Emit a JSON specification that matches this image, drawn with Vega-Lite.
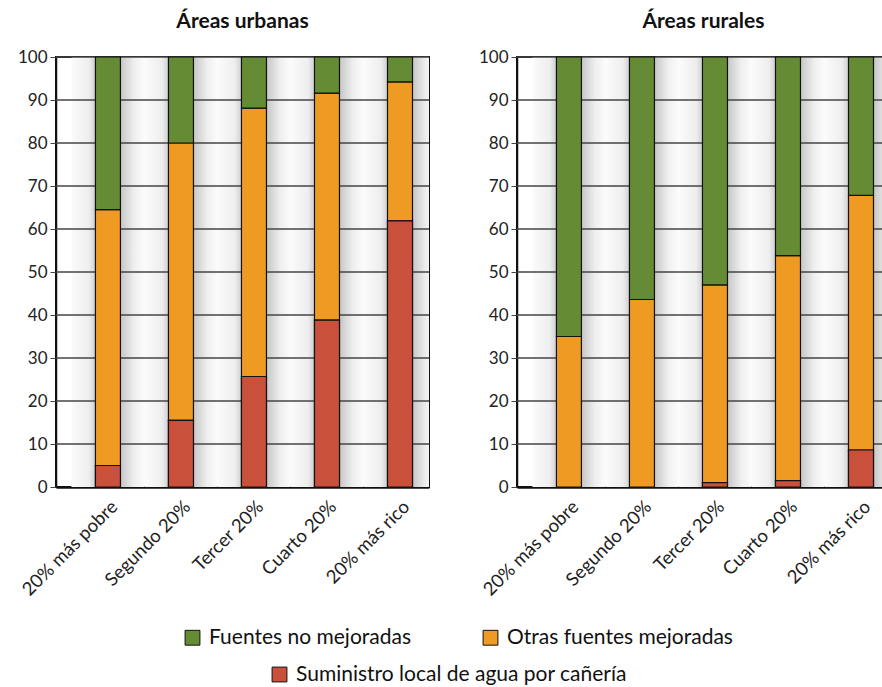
{
  "$schema": "https://vega.github.io/schema/vega-lite/v6.json",
  "padding": {"left": 16, "top": 10, "right": 0, "bottom": 0},
  "background": "white",
  "datasets": {
    "agua": [
      {"area": "urbana", "quintil": "20% más pobre", "tipo": "Suministro local de agua por cañería", "valor": 5},
      {"area": "urbana", "quintil": "20% más pobre", "tipo": "Otras fuentes mejoradas", "valor": 59.5},
      {"area": "urbana", "quintil": "20% más pobre", "tipo": "Fuentes no mejoradas", "valor": 35.5},
      {"area": "urbana", "quintil": "Segundo 20%", "tipo": "Suministro local de agua por cañería", "valor": 15.5},
      {"area": "urbana", "quintil": "Segundo 20%", "tipo": "Otras fuentes mejoradas", "valor": 64.5},
      {"area": "urbana", "quintil": "Segundo 20%", "tipo": "Fuentes no mejoradas", "valor": 20},
      {"area": "urbana", "quintil": "Tercer 20%", "tipo": "Suministro local de agua por cañería", "valor": 25.7},
      {"area": "urbana", "quintil": "Tercer 20%", "tipo": "Otras fuentes mejoradas", "valor": 62.4},
      {"area": "urbana", "quintil": "Tercer 20%", "tipo": "Fuentes no mejoradas", "valor": 11.9},
      {"area": "urbana", "quintil": "Cuarto 20%", "tipo": "Suministro local de agua por cañería", "valor": 38.8},
      {"area": "urbana", "quintil": "Cuarto 20%", "tipo": "Otras fuentes mejoradas", "valor": 52.8},
      {"area": "urbana", "quintil": "Cuarto 20%", "tipo": "Fuentes no mejoradas", "valor": 8.4},
      {"area": "urbana", "quintil": "20% más rico", "tipo": "Suministro local de agua por cañería", "valor": 61.9},
      {"area": "urbana", "quintil": "20% más rico", "tipo": "Otras fuentes mejoradas", "valor": 32.3},
      {"area": "urbana", "quintil": "20% más rico", "tipo": "Fuentes no mejoradas", "valor": 5.8},
      {"area": "rural", "quintil": "20% más pobre", "tipo": "Otras fuentes mejoradas", "valor": 35},
      {"area": "rural", "quintil": "20% más pobre", "tipo": "Fuentes no mejoradas", "valor": 65},
      {"area": "rural", "quintil": "Segundo 20%", "tipo": "Otras fuentes mejoradas", "valor": 43.6},
      {"area": "rural", "quintil": "Segundo 20%", "tipo": "Fuentes no mejoradas", "valor": 56.4},
      {"area": "rural", "quintil": "Tercer 20%", "tipo": "Suministro local de agua por cañería", "valor": 1},
      {"area": "rural", "quintil": "Tercer 20%", "tipo": "Otras fuentes mejoradas", "valor": 46},
      {"area": "rural", "quintil": "Tercer 20%", "tipo": "Fuentes no mejoradas", "valor": 53},
      {"area": "rural", "quintil": "Cuarto 20%", "tipo": "Suministro local de agua por cañería", "valor": 1.5},
      {"area": "rural", "quintil": "Cuarto 20%", "tipo": "Otras fuentes mejoradas", "valor": 52.3},
      {"area": "rural", "quintil": "Cuarto 20%", "tipo": "Fuentes no mejoradas", "valor": 46.2},
      {"area": "rural", "quintil": "20% más rico", "tipo": "Suministro local de agua por cañería", "valor": 8.6},
      {"area": "rural", "quintil": "20% más rico", "tipo": "Otras fuentes mejoradas", "valor": 59.2},
      {"area": "rural", "quintil": "20% más rico", "tipo": "Fuentes no mejoradas", "valor": 32.2}
    ],
    "grid": [{"v": 10}, {"v": 20}, {"v": 30}, {"v": 40}, {"v": 50}, {"v": 60}, {"v": 70}, {"v": 80}, {"v": 90}, {"v": 100}]
  },
  "hconcat": [
    {
      "title": "Áreas urbanas",
      "width": 373,
      "height": 430,
      "encoding": {
        "x": {"field": "quintil", "type": "nominal", "title": null,
              "sort": ["20% más pobre", "Segundo 20%", "Tercer 20%", "Cuarto 20%", "20% más rico"],
              "scale": {"paddingInner": 0.6575, "paddingOuter": 0.383, "align": 0.705}}
      },
      "layer": [
        {
          "data": {"name": "agua"},
          "transform": [{"filter": "datum.area === 'urbana' && datum.tipo === 'Otras fuentes mejoradas'"}],
          "mark": {"type": "bar", "width": {"band": 2.92}, "clip": true, "strokeWidth": 0,
                   "fill": {"gradient": "linear", "x1": 0, "y1": 0, "x2": 1, "y2": 0,
                            "stops": [{"offset": 0, "color": "#fbfbfb"}, {"offset": 0.24, "color": "#eeeeee"}, {"offset": 0.33, "color": "#cfcfcf"}, {"offset": 0.67, "color": "#c6c6c6"}, {"offset": 0.86, "color": "#efefef"}, {"offset": 1, "color": "#fbfbfb"}]}},
          "encoding": {"y": {"datum": 100, "type": "quantitative", "title": null}, "y2": {"datum": 0}}
        },
        {
          "data": {"name": "grid"},
          "mark": {"type": "rule", "color": "#444", "strokeWidth": 1.3},
          "encoding": {"y": {"field": "v", "type": "quantitative", "title": null}, "x": null}
        },
        {
          "data": {"name": "agua"},
          "transform": [{"filter": "datum.area === 'urbana'"}],
          "mark": {"type": "bar", "stroke": "#111", "strokeWidth": 1.2},
          "encoding": {
            "y": {"field": "valor", "type": "quantitative", "stack": "zero", "title": null, "scale": {"domain": [0, 100]}},
            "fill": {"field": "tipo", "type": "nominal",
                      "scale": {"domain": ["Fuentes no mejoradas", "Otras fuentes mejoradas", "Suministro local de agua por cañería"], "range": ["#658b35", "#ef9a23", "#c9503b"]},
                      "legend": {"title": null, "orient": "none", "direction": "horizontal", "legendX": 126, "legendY": 570, "values": ["Fuentes no mejoradas", "Otras fuentes mejoradas"], "columnPadding": 69}},
            "order": {"field": "tipo", "sort": "descending"}
          }
        },
        {
          "data": {"name": "agua"},
          "transform": [{"filter": "datum.area === 'urbana' && datum.tipo === 'Suministro local de agua por cañería'"}],
          "mark": {"type": "bar", "stroke": "#111", "strokeWidth": 1.2},
          "encoding": {
            "y": {"field": "valor", "type": "quantitative", "title": null},
            "color": {"field": "tipo", "type": "nominal",
                      "scale": {"domain": ["Suministro local de agua por cañería"], "range": ["#c9503b"]},
                      "legend": {"title": null, "orient": "none", "direction": "horizontal", "legendX": 213, "legendY": 607}}
          }
        }
      ]
    },
    {
      "title": "Áreas rurales",
      "width": 373,
      "height": 430,
      "encoding": {
        "x": {"field": "quintil", "type": "nominal", "title": null,
              "sort": ["20% más pobre", "Segundo 20%", "Tercer 20%", "Cuarto 20%", "20% más rico"],
              "scale": {"paddingInner": 0.6575, "paddingOuter": 0.383, "align": 0.705}}
      },
      "layer": [
        {
          "data": {"name": "agua"},
          "transform": [{"filter": "datum.area === 'rural' && datum.tipo === 'Otras fuentes mejoradas'"}],
          "mark": {"type": "bar", "width": {"band": 2.92}, "clip": true, "strokeWidth": 0,
                   "fill": {"gradient": "linear", "x1": 0, "y1": 0, "x2": 1, "y2": 0,
                            "stops": [{"offset": 0, "color": "#fbfbfb"}, {"offset": 0.24, "color": "#eeeeee"}, {"offset": 0.33, "color": "#cfcfcf"}, {"offset": 0.67, "color": "#c6c6c6"}, {"offset": 0.86, "color": "#efefef"}, {"offset": 1, "color": "#fbfbfb"}]}},
          "encoding": {"y": {"datum": 100, "type": "quantitative", "title": null}, "y2": {"datum": 0}}
        },
        {
          "data": {"name": "grid"},
          "mark": {"type": "rule", "color": "#444", "strokeWidth": 1.3},
          "encoding": {"y": {"field": "v", "type": "quantitative", "title": null}, "x": null}
        },
        {
          "data": {"name": "agua"},
          "transform": [{"filter": "datum.area === 'rural'"}],
          "mark": {"type": "bar", "stroke": "#111", "strokeWidth": 1.2},
          "encoding": {
            "y": {"field": "valor", "type": "quantitative", "stack": "zero", "title": null, "scale": {"domain": [0, 100]}},
            "fill": {"field": "tipo", "type": "nominal",
                      "scale": {"domain": ["Fuentes no mejoradas", "Otras fuentes mejoradas", "Suministro local de agua por cañería"], "range": ["#658b35", "#ef9a23", "#c9503b"]},
                      "legend": {"title": null, "orient": "none", "direction": "horizontal", "legendX": 126, "legendY": 570, "values": ["Fuentes no mejoradas", "Otras fuentes mejoradas"], "columnPadding": 69}},
            "order": {"field": "tipo", "sort": "descending"}
          }
        },
        {
          "data": {"name": "agua"},
          "transform": [{"filter": "datum.area === 'rural' && datum.tipo === 'Suministro local de agua por cañería'"}],
          "mark": {"type": "bar", "stroke": "#111", "strokeWidth": 1.2},
          "encoding": {
            "y": {"field": "valor", "type": "quantitative", "title": null},
            "color": {"field": "tipo", "type": "nominal",
                      "scale": {"domain": ["Suministro local de agua por cañería"], "range": ["#c9503b"]},
                      "legend": {"title": null, "orient": "none", "direction": "horizontal", "legendX": 213, "legendY": 607}}
          }
        }
      ]
    }
  ],
  "spacing": 46,
  "config": {
    "font": "Lato",
    "view": {"stroke": "#111", "strokeWidth": 2},
    "title": {"fontSize": 21, "fontWeight": "bold", "color": "#111", "offset": 16, "anchor": "middle"},
    "axisX": {"labelAngle": -45, "labelFontSize": 18.5, "labelColor": "#222", "ticks": false, "domainColor": "#111", "domainWidth": 2.5, "labelPadding": 10, "grid": false, "zindex": 1},
    "axisY": {"labelFontSize": 17, "labelColor": "#222", "tickColor": "#444", "tickSize": 6, "domainColor": "#111", "domainWidth": 1.5, "labelPadding": 3, "grid": false, "zindex": 1, "values": [0, 10, 20, 30, 40, 50, 60, 70, 80, 90, 100]},
    "legend": {"labelFontSize": 21, "labelColor": "#111", "symbolType": "square", "symbolSize": 220, "symbolStrokeColor": "#111", "symbolStrokeWidth": 1, "symbolOpacity": 1, "labelLimit": 500, "labelOffset": 6}
  }
}
